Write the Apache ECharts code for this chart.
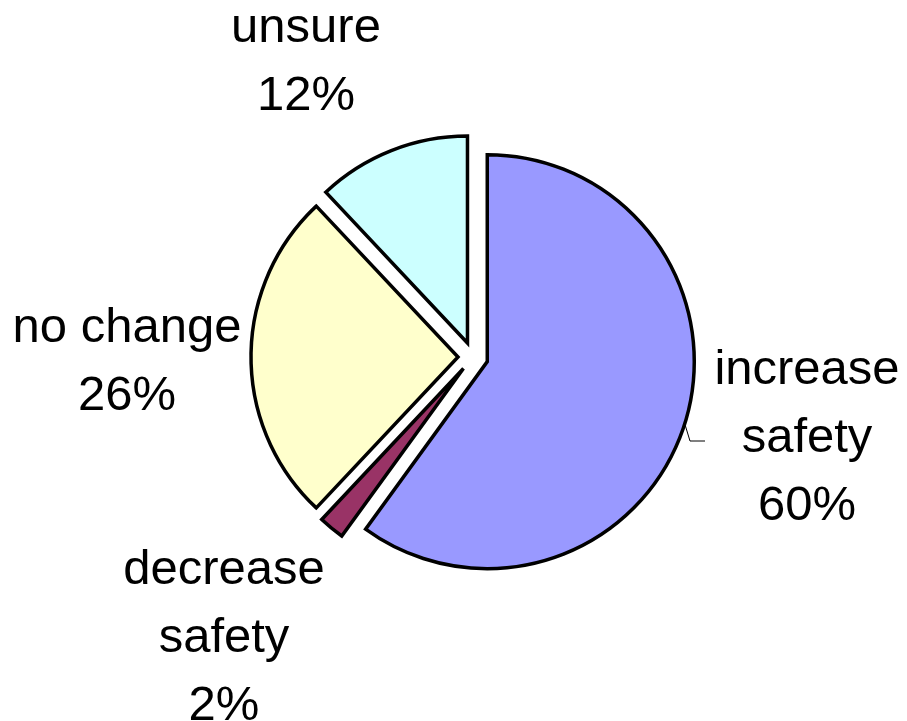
<!DOCTYPE html>
<html>
<head>
<meta charset="utf-8">
<script src="https://cdn.jsdelivr.net/npm/echarts@6/dist/echarts.min.js"></script>
<style>
  html, body { margin: 0; padding: 0; background: #ffffff; }
  #chart { width: 907px; height: 721px; }
</style>
</head>
<body>
<div id="chart"></div>
<script>
// Survey answers, in clockwise order starting from 12 o'clock
const categories = ['increase safety', 'decrease safety', 'no change', 'unsure'];
const values = [60, 2, 26, 12];
const colors = ['#9999FF', '#993366', '#FFFFCC', '#CCFFFF'];
// Category names as they are broken over lines in the labels
const labelNames = ['increase\nsafety', 'decrease\nsafety', 'no change', 'unsure'];

// Where each label block is centred (pixels)
const labelAnchors = [[807, 438], [224, 638], [127, 362], [306, 62]];

const chart = echarts.init(document.getElementById('chart'), null, { renderer: 'canvas' });

const total = values.reduce((s, v) => s + v, 0);

const data = categories.map((name, i) => ({
  name: name,
  value: values[i],
  selected: true,
  itemStyle: { color: colors[i] }
}));

// Data labels: name plus share of the total
const labelGraphics = labelNames.map((txt, i) => ({
  type: 'text',
  silent: true,
  style: {
    text: txt + '\n' + Math.round(values[i] / total * 100) + '%',
    x: labelAnchors[i][0],
    y: labelAnchors[i][1],
    align: 'center',
    verticalAlign: 'middle',
    fontFamily: 'Liberation Sans, Arial, sans-serif',
    fontSize: 49,
    lineHeight: 68,
    fill: '#000000'
  }
}));

// Short leader from the largest slice to its label
labelGraphics.push({
  type: 'polyline',
  silent: true,
  shape: { points: [[683, 418], [690, 441], [705, 441]] },
  style: { stroke: '#000000', lineWidth: 1, fill: null }
});

chart.setOption({
  animation: false,
  backgroundColor: '#ffffff',
  graphic: labelGraphics,
  series: [{
    type: 'pie',
    center: [473, 357],
    radius: 207,
    startAngle: 90,
    clockwise: true,
    selectedMode: 'multiple',
    selectedOffset: 15,
    avoidLabelOverlap: false,
    data: data,
    itemStyle: {
      borderColor: '#000000',
      borderWidth: 3.5,
      borderJoin: 'miter'
    },
    label: { show: false },
    labelLine: { show: false },
    emphasis: { scale: false }
  }]
});
</script>
</body>
</html>
